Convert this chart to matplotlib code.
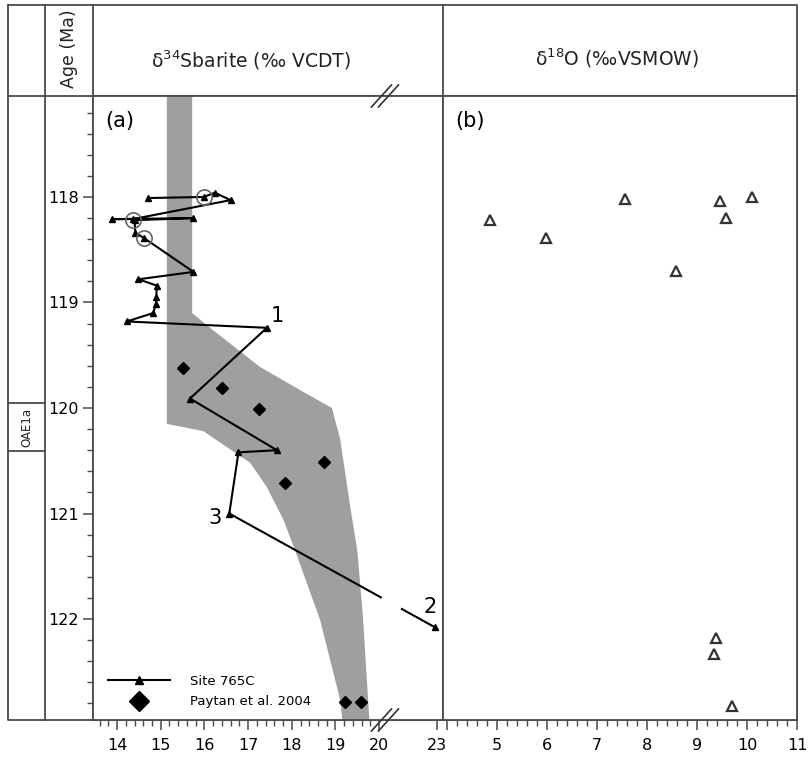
import matplotlib
matplotlib.use('Agg')
import matplotlib.pyplot as plt
from matplotlib.ticker import MultipleLocator, FixedLocator
from matplotlib.lines import Line2D
import numpy as np

# Site 765C d34S barite (line with triangles), in drawing order
site_s34 = [14.72, 15.98, 16.24, 16.60, 14.36, 13.88, 15.75, 14.40, 14.42, 14.62,
            15.75, 14.49, 14.91, 14.90, 14.89, 14.83, 14.22, 17.43, 15.67, 17.66,
            16.78, 16.57, 22.90]
site_age = [118.01, 118.00, 117.96, 118.03, 118.21, 118.21, 118.20, 118.22, 118.34, 118.39,
            118.71, 118.78, 118.84, 118.95, 119.01, 119.10, 119.18, 119.24, 119.91, 120.40,
            120.42, 121.00, 122.08]

# circled samples
circ_s34 = [15.98, 14.36, 14.62]
circ_age = [118.00, 118.22, 118.39]

# Paytan et al. 2004
pay_s34 = [15.52, 16.41, 17.26, 18.74, 17.85, 19.22, 19.59]
pay_age = [119.62, 119.81, 120.01, 120.51, 120.71, 122.79, 122.79]

# grey envelope
band_lo_age = [117.0, 120.15, 120.22, 120.37, 120.52, 120.75, 121.06, 121.31, 122.01, 122.77, 123.05]
band_lo = [15.14, 15.14, 15.98, 16.51, 17.05, 17.43, 17.81, 18.04, 18.65, 19.11, 19.18]
band_hi_age = [117.0, 119.10, 119.24, 119.61, 119.83, 120.00, 120.30, 120.94, 121.35, 121.98, 123.05]
band_hi = [15.72, 15.72, 16.13, 17.27, 18.19, 18.92, 19.11, 19.34, 19.50, 19.63, 19.79]

# d18O
o18 = [4.85, 5.98, 7.56, 8.57, 9.45, 9.58, 10.09, 9.38, 9.34, 9.69]
o18_age = [118.22, 118.39, 118.02, 118.70, 118.04, 118.20, 118.00, 122.18, 122.33, 122.82]

# numbered points (index into site arrays)
num_labels = {'1': 17, '3': 21, '2': 22}

K = 0.443  # compression beyond the axis break at 20


def fwd(x):
    x = np.asarray(x, dtype=float)
    return np.where(x <= 20, x, 20 + (x - 20) * K)


def inv(x):
    x = np.asarray(x, dtype=float)
    return np.where(x <= 20, x, 20 + (x - 20) / K)


W, H = 808, 758
fig = plt.figure(figsize=(W / 100, H / 100), dpi=100)
frame_col = '#4a4a4a'
txt_col = '#222222'

# background frame in pixel coords
bg = fig.add_axes([0, 0, 1, 1], zorder=-1)
bg.set_xlim(0, W)
bg.set_ylim(H, 0)
bg.axis('off')
lk = dict(color=frame_col, lw=1.3)
bg.plot([8, 797, 797, 8, 8], [5, 5, 720, 720, 5], **lk)
bg.plot([45, 45], [5, 720], **lk)
bg.plot([93, 93], [5, 720], **lk)
bg.plot([443, 443], [5, 96], **lk)
bg.plot([8, 797], [96, 96], **lk)
bg.plot([8, 45], [403, 403], **lk)
bg.plot([8, 45], [451, 451], **lk)
bg.text(69, 49, 'Age (Ma)', rotation=90, ha='center', va='center', fontsize=12.5, color=txt_col)
bg.text(27, 427, 'OAE1a', rotation=90, ha='center', va='center', fontsize=8.5, color=txt_col)
bg.text(251, 60, r'δ$^{34}$Sbarite (‰ VCDT)', ha='center', va='center', fontsize=13.5, color=txt_col)
bg.text(617, 58, r'δ$^{18}$O (‰VSMOW)', ha='center', va='center', fontsize=13.5, color=txt_col)

bottom = (H - 720) / H
height = (720 - 96) / H
ax = fig.add_axes([93 / W, bottom, 350 / W, height])
bx = fig.add_axes([443 / W, bottom, 354 / W, height])

# ---- panel (a)
ax.set_xscale('function', functions=(fwd, inv))
ax.fill(np.r_[band_lo, band_hi[::-1]], np.r_[band_lo_age, band_hi_age[::-1]],
        color='#9f9f9f', lw=0, zorder=1)
ax.plot(site_s34, site_age, color='k', lw=1.5, marker='^', ms=5, zorder=3)
ax.plot(circ_s34, circ_age, ls='none', marker='o', ms=11, mfc='none', mec='#666666', mew=1.2, zorder=4)
ax.plot(pay_s34, pay_age, ls='none', marker='D', ms=6, color='k', zorder=3)

for lab, i in num_labels.items():
    off = {'1': (10, 12), '3': (-14, -4), '2': (-5, 20)}[lab]
    ax.annotate(lab, (site_s34[i], site_age[i]), xytext=off, textcoords='offset pixels',
                ha='center', va='center', fontsize=15)

ax.set_xlim(13.45, 23.3)
ax.set_ylim(122.957, 117.043)
ax.xaxis.set_major_locator(FixedLocator([14, 15, 16, 17, 18, 19, 20, 23]))
ax.xaxis.set_minor_locator(FixedLocator(np.arange(13.6, 20.01, 0.2)))
ax.yaxis.set_major_locator(MultipleLocator(1))
ax.yaxis.set_minor_locator(MultipleLocator(0.2))
ax.tick_params(which='major', direction='out', length=7, width=1.1, labelsize=11.5, color=frame_col)
ax.tick_params(which='minor', direction='out', length=4, width=1.0, color=frame_col)
ax.tick_params(axis='x', which='major', pad=6)
ax.tick_params(axis='y', which='major', pad=3)
for s in ax.spines.values():
    s.set_color(frame_col)
    s.set_linewidth(1.3)
ax.text(0.035, 0.96, '(a)', transform=ax.transAxes, fontsize=15, ha='left', va='center')

# gap in the segment crossing the break
seg_x = fwd([site_s34[21], site_s34[22]])
seg_y = [site_age[21], site_age[22]]
gx = np.array([20.06, 20.50])
gy = np.interp(gx, seg_x, seg_y)
ax.plot(inv(gx), gy, color='white', lw=3, zorder=3.5, solid_capstyle='butt')

# axis-break marks
to_ax = ax.transAxes.inverted()
fig.canvas.draw()
xb = to_ax.transform(ax.transData.transform((20.3, 120.0)))[0]
dx, dy = 10 / 350, 11 / 624
for yb in (0.0, 1.0):
    for sh in (-3.5 / 350, 3.5 / 350):
        ax.plot([xb + sh - dx, xb + sh + dx], [yb - dy, yb + dy], transform=ax.transAxes,
                color='#333333', lw=1.2, clip_on=False, zorder=6)

h1 = Line2D([], [], color='k', lw=1.5, marker='^', ms=5.5)
h2 = Line2D([], [], color='k', ls='none', marker='D', ms=10)
ax.legend([h1, h2], ['Site 765C', 'Paytan et al. 2004'], loc='lower left',
          bbox_to_anchor=(0.01, 0.0), frameon=False, handlelength=4.7, handletextpad=1.5,
          fontsize=9.5, labelspacing=0.55, numpoints=1)

# ---- panel (b)
bx.plot(o18, o18_age, ls='none', marker='^', ms=6.5, mfc='none', mec='#333333', mew=1.6)
bx.set_xlim(3.92, 11)
bx.set_ylim(122.957, 117.043)
bx.xaxis.set_major_locator(FixedLocator([4, 5, 6, 7, 8, 9, 10, 11]))
bx.xaxis.set_minor_locator(MultipleLocator(0.2))
bx.set_xticklabels(['', '5', '6', '7', '8', '9', '10', '11'])
bx.tick_params(axis='y', which='both', left=False, labelleft=False)
bx.tick_params(axis='x', which='major', direction='out', length=7, width=1.1, labelsize=11.5,
               color=frame_col, pad=6)
bx.tick_params(axis='x', which='minor', direction='out', length=4, width=1.0, color=frame_col)
for s in bx.spines.values():
    s.set_color(frame_col)
    s.set_linewidth(1.3)
bx.text(0.035, 0.96, '(b)', transform=bx.transAxes, fontsize=15, ha='left', va='center')

fig.savefig('out.png', dpi=100)
